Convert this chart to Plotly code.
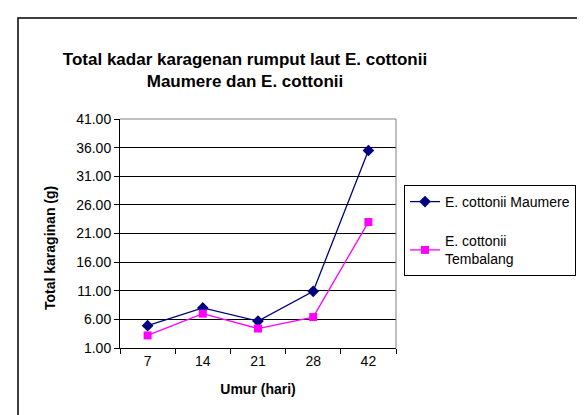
import plotly.graph_objects as go

categories = ["7", "14", "21", "28", "42"]
maumere = [4.9, 8.0, 5.7, 10.9, 35.5]
tembalang = [3.2, 7.0, 4.4, 6.4, 23.0]
y_ticks = [1, 6, 11, 16, 21, 26, 31, 36, 41]

FONT = "Arial, Liberation Sans, sans-serif"
W, H = 585, 415
L, R, T, B = 112, 388, 111, 340

def px(x):
    return (x - L) / (R - L)

def py(y):
    return (B - y) / (B - T)

fig = go.Figure()
fig.add_trace(go.Scatter(
    x=categories, y=maumere, mode="lines+markers", name="E. cottonii Maumere",
    line=dict(color="#000080", width=1.3),
    marker=dict(symbol="diamond", size=9, color="#000080"),
    legendgroup="a",
))
fig.add_trace(go.Scatter(
    x=categories, y=tembalang, mode="lines+markers", name="E. cottonii<br>Tembalang",
    line=dict(color="#FF00FF", width=1.3),
    marker=dict(symbol="square", size=8, color="#FF00FF"),
    legendgroup="b",
))

fig.update_layout(
    width=W, height=H,
    margin=dict(l=L, r=W - R, t=T, b=H - B, pad=0),
    paper_bgcolor="white", plot_bgcolor="white",
    font=dict(family=FONT, size=14, color="black"),
    title=dict(
        text="<b>Total kadar karagenan rumput laut E. cottonii<br>Maumere dan E. cottonii</b>",
        font=dict(family=FONT, size=17, color="black"),
        x=px(237), xref="paper", xanchor="center",
        y=1 - 57 / H, yref="container", yanchor="top",
    ),
    xaxis=dict(
        type="category", tickson="boundaries", ticks="outside", ticklen=5,
        tickcolor="black", showline=True, linecolor="black", linewidth=1,
        showgrid=False, tickfont=dict(size=14), range=[-0.5, 4.5],
        title=dict(text="<b>Umur (hari)</b>", font=dict(size=14), standoff=16),
    ),
    yaxis=dict(
        range=[1, 41], tickvals=y_ticks, tickformat=".2f", ticks="outside",
        ticklen=5, tickcolor="black", showline=True, linecolor="black",
        linewidth=1, showgrid=True, gridcolor="black", gridwidth=1,
        tickfont=dict(size=14), zeroline=False,
    ),
    legend=dict(
        x=px(396), y=py(177), xref="paper", yref="paper",
        xanchor="left", yanchor="top",
        bordercolor="black", borderwidth=1, bgcolor="white",
        font=dict(family=FONT, size=14, color="black"),
        traceorder="grouped", tracegroupgap=18,
        itemwidth=30,
    ),
    showlegend=True,
)

fig.add_annotation(
    text="<b>Total karaginan (g)</b>", textangle=-90,
    x=px(42), y=py(240), xref="paper", yref="paper",
    xanchor="center", yanchor="middle",
    showarrow=False, font=dict(family=FONT, size=14, color="black"),
)

# plot area border (top and right, gray)
fig.add_shape(type="line", xref="paper", yref="paper", x0=0, x1=1, y0=1, y1=1,
              line=dict(color="#808080", width=1), layer="above")
fig.add_shape(type="line", xref="paper", yref="paper", x0=1, x1=1, y0=0, y1=1,
              line=dict(color="#808080", width=1), layer="above")
# outer chart border
fig.add_shape(type="rect", xref="paper", yref="paper",
              x0=px(10), x1=px(600), y0=py(430), y1=py(10),
              line=dict(color="black", width=1.5), fillcolor="rgba(0,0,0,0)")

fig.write_html("out.html")
